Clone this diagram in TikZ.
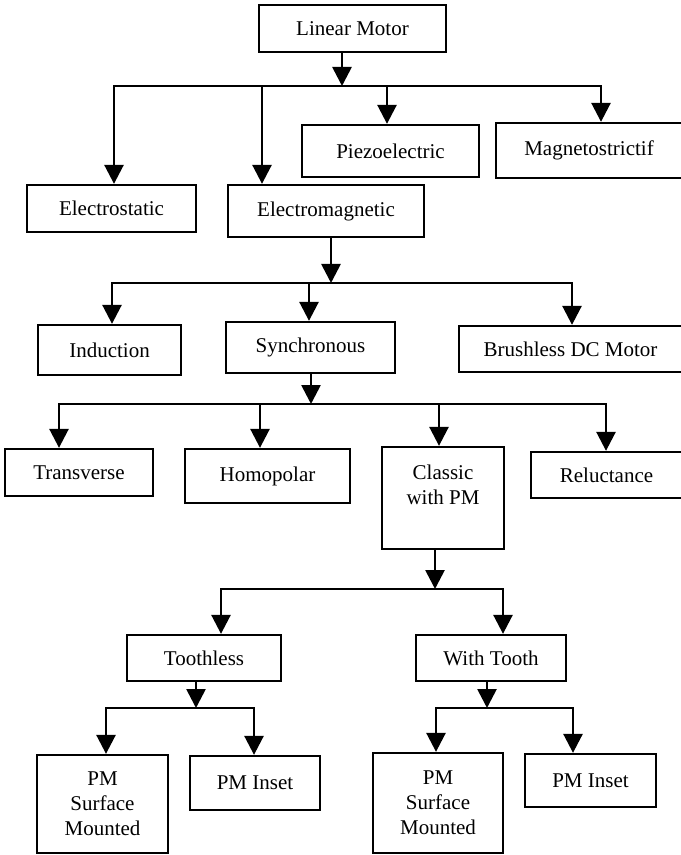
\documentclass[tikz,border=0pt]{standalone}
\usepackage{fontspec}
\setmainfont{Liberation Serif}
\usepackage{tikz}
\usetikzlibrary{arrows.meta}

\begin{document}
\begin{tikzpicture}[x=0.5pt,y=-0.5pt]
\tikzstyle{box} = [draw, line width=1.15pt, inner sep=0pt, align=center, font=\fontsize{10.5}{12.6}\selectfont]
\tikzstyle{arr} = [line width=1.35pt, -{Triangle[width=9.5pt,length=9.5pt]}]
\tikzstyle{bus} = [line width=1.25pt, line cap=rect]
\useasboundingbox (0,0) rectangle (680,855);
%
	\node[box, minimum width=93.5pt, minimum height=23.5pt] (lin) at (352.5,28.5) {Linear Motor};

	\node[box, minimum width=84.5pt, minimum height=23.5pt] (es) at (111.5,208.5) {Electrostatic};
	\node[box, minimum width=98pt, minimum height=26pt] (em) at (326,211) {Electromagnetic};
	\node[box, minimum width=88.5pt, minimum height=26pt] (pz) at (390.5,151) {Piezoelectric};
	\node[box, minimum width=93pt, minimum height=27.5pt] (mg) at (589,150.5) {Magnetostrictif};

	\node[box, minimum width=71.5pt, minimum height=25pt] (ind) at (109.5,350) {Induction};
	\node[box, minimum width=84.5pt, minimum height=25.5pt] (syn) at (310.5,347.5) {Synchronous};
	\node[box, minimum width=111.5pt, minimum height=23pt] (bl) at (570.5,349) {Brushless DC Motor};

	\node[box, minimum width=74pt, minimum height=23.5pt] (tr) at (79,472.5) {Transverse};
	\node[box, minimum width=82.5pt, minimum height=27pt] (ho) at (267.5,476) {Homopolar};
	\node[box, minimum width=61pt, minimum height=51pt] (cl) at (443,498) {};
	\node[align=center, font=\fontsize{10.5}{12.6}\selectfont] (clt) at (443,485) {Classic\\with PM};
	\node[box, minimum width=75.5pt, minimum height=23pt] (re) at (606.5,475) {Reluctance};

	\node[box, minimum width=77pt, minimum height=23pt] (tl) at (204,658) {Toothless};
	\node[box, minimum width=75pt, minimum height=23pt] (wt) at (491,658) {With Tooth};

	\node[box, minimum width=65.5pt, minimum height=49pt] (ps1) at (102.5,804) {PM\\Surface\\Mounted};
	\node[box, minimum width=65pt, minimum height=27pt] (pi1) at (255,783) {PM Inset};
	\node[box, minimum width=65pt, minimum height=50pt] (ps2) at (438,803) {PM\\Surface\\Mounted};
	\node[box, minimum width=65.5pt, minimum height=26.5pt] (pi2) at (590.5,780.5) {PM Inset};

	% linear motor
	\coordinate (j0) at (342,86);
	\coordinate (j0a) at (114,86);
	\coordinate (j0b) at (262,86);
	\coordinate (j0c) at (387,86);
	\coordinate (j0d) at (601,86);
	\draw[arr] (lin.south -| j0) -- (j0);
	\draw[bus] (j0a) -- (j0d);
	\draw[arr] (j0a) -- (j0a |- es.north);
	\draw[arr] (j0b) -- (j0b |- em.north);
	\draw[arr] (j0c) -- (j0c |- pz.north);
	\draw[arr] (j0d) -- (j0d |- mg.north);

	% electromagnetic
	\coordinate (j1) at (331,283);
	\coordinate (j1a) at (112,283);
	\coordinate (j1b) at (309,283);
	\coordinate (j1c) at (572,283);
	\draw[arr] (em.south -| j1) -- (j1);
	\draw[bus] (j1a) -- (j1c);
	\draw[arr] (j1a) -- (j1a |- ind.north);
	\draw[arr] (j1b) -- (j1b |- syn.north);
	\draw[arr] (j1c) -- (j1c |- bl.north);

	% synchronous
	\coordinate (j2) at (311,404);
	\coordinate (j2a) at (59,404);
	\coordinate (j2b) at (260,404);
	\coordinate (j2c) at (439,404);
	\coordinate (j2d) at (606,404);
	\draw[arr] (syn.south -| j2) -- (j2);
	\draw[bus] (j2a) -- (j2d);
	\draw[arr] (j2a) -- (j2a |- tr.north);
	\draw[arr] (j2b) -- (j2b |- ho.north);
	\draw[arr] (j2c) -- (j2c |- cl.north);
	\draw[arr] (j2d) -- (j2d |- re.north);

	% classic with PM
	\coordinate (j3) at (435,589);
	\coordinate (j3a) at (221,589);
	\coordinate (j3b) at (503,589);
	\draw[arr] (cl.south -| j3) -- (j3);
	\draw[bus] (j3a) -- (j3b);
	\draw[arr] (j3a) -- (j3a |- tl.north);
	\draw[arr] (j3b) -- (j3b |- wt.north);

	% toothless / with tooth
	\coordinate (j4) at (196,708);
	\coordinate (j4a) at (106,708);
	\coordinate (j4b) at (254,708);
	\draw[arr] (tl.south -| j4) -- (j4);
	\draw[bus] (j4a) -- (j4b);
	\draw[arr] (j4a) -- (j4a |- ps1.north);
	\draw[arr] (j4b) -- (j4b |- pi1.north);

	\coordinate (j5) at (487,708);
	\coordinate (j5a) at (436,708);
	\coordinate (j5b) at (573,708);
	\draw[arr] (wt.south -| j5) -- (j5);
	\draw[bus] (j5a) -- (j5b);
	\draw[arr] (j5a) -- (j5a |- ps2.north);
	\draw[arr] (j5b) -- (j5b |- pi2.north);
\end{tikzpicture}
\end{document}
